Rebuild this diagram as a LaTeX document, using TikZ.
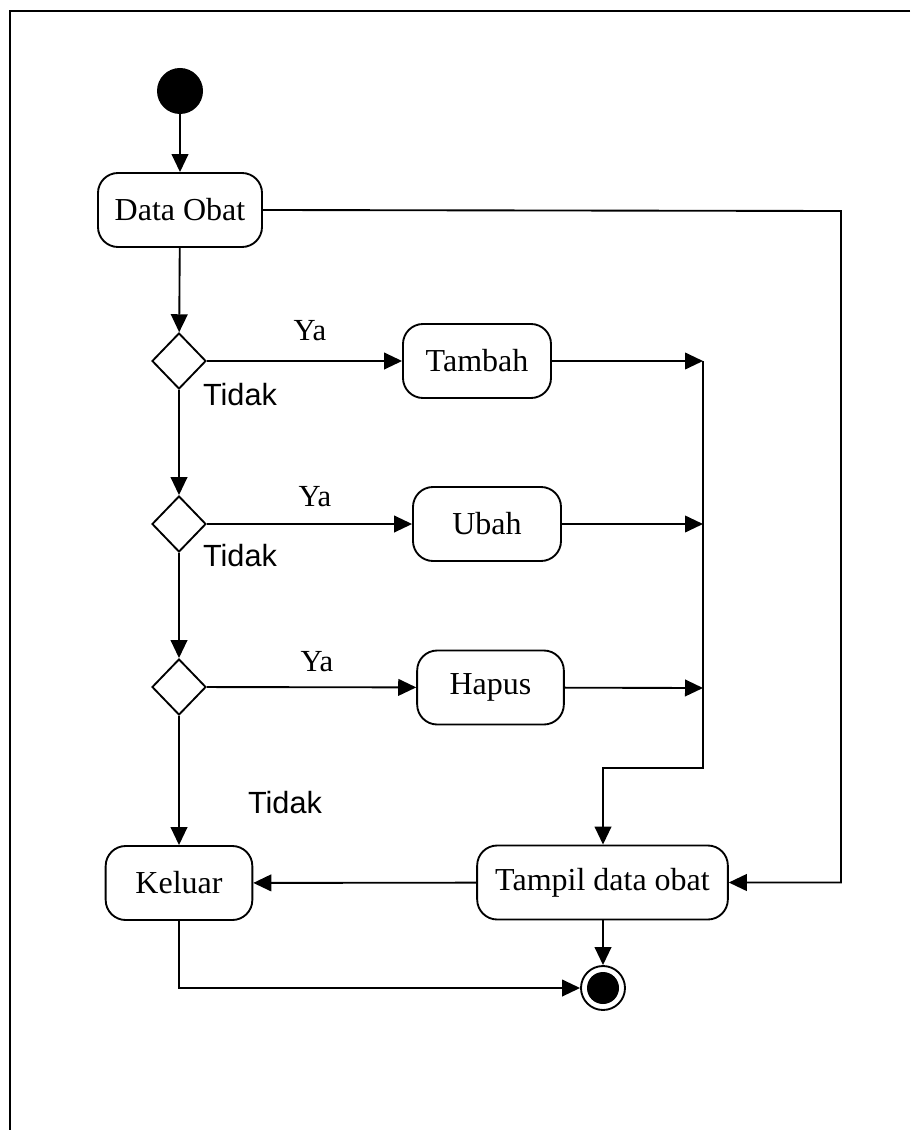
\documentclass[tikz,border=0pt]{standalone}
\usepackage{fontspec}
\setmainfont{Liberation Serif}
\newfontfamily\labelsans{Liberation Sans}
\usetikzlibrary{shapes.geometric,arrows.meta}

\tikzset{
  line/.style={line width=1.4pt},
  flow/.style={line, -{Triangle[length=13.5pt,width=12.5pt]}},
  action/.style={draw, line width=1.4pt, rounded corners=15pt, inner sep=0pt,
    minimum height=55.5pt, font=\fontsize{24}{28}\selectfont},
  decision/.style={draw, diamond, line width=1.4pt, inner sep=0pt,
    minimum width=40.5pt, minimum height=42pt},
  startnode/.style={circle, fill=black, inner sep=0pt, minimum size=34.5pt},
  endnode/.style={circle, draw, line width=1.4pt, inner sep=0pt, minimum size=33pt,
    path picture={\fill (path picture bounding box.center) circle (12pt);}},
  yes/.style={font=\fontsize{23}{26}\selectfont},
  no/.style={font=\labelsans\fontsize{23}{26}\selectfont}
}

\begin{document}
\begin{tikzpicture}[x=0.75pt,y=-0.75pt]
\useasboundingbox (0,0) rectangle (910,1130);

% outer frame
\draw[line width=1.5pt] (910,11) -- (10,11) -- (10,1130);

% nodes
\node[startnode] (start) at (180,91) {};
\node[action, minimum width=123pt] (dataobat) at (180,210) {Data Obat};
\node[decision] (d1) at (179,361) {};
\node[decision] (d2) at (179,524) {};
\node[decision] (d3) at (179,687) {};
\node[action, minimum width=111pt] (tambah) at (477,361) {Tambah};
\node[action, minimum width=111pt] (ubah) at (487,524) {Ubah};
\node[action, minimum width=110pt] (hapus) at (490.5,687.5) {Hapus};
\node[action, minimum width=110pt] (keluar) at (179,883) {Keluar};
\node[action, minimum width=188pt] (tampil) at (602.5,882.5) {Tampil data obat};
\node[endnode] (end) at (603,988) {};

% labels
\node[yes] (ya1) at (310,331) {Ya};
\node[yes] (ya2) at (315,497) {Ya};
\node[yes] (ya3) at (317,662) {Ya};
\node[no] (tidak1) at (240,395) {Tidak};
\node[no] (tidak2) at (240,556) {Tidak};
\node[no] (tidak3) at (285,803) {Tidak};

% junction points
\coordinate (c1) at (841,211);
\coordinate (j1) at (703,361);
\coordinate (j2) at (703,524);
\coordinate (j3) at (703,688);
\coordinate (j4) at (703,768);
\coordinate (j5) at (603,768);

% connectors
\draw[flow] (start) -- (dataobat);
\draw[flow] (dataobat.east) -- (c1) |- (tampil.east);
\draw[flow] (dataobat) -- (d1);
\draw[flow] (d1) -- (tambah);
\draw[flow] (d1) -- (d2);
\draw[flow] (d2) -- (ubah);
\draw[flow] (d2) -- (d3);
\draw[flow] (d3) -- (hapus);
\draw[flow] (d3) -- (keluar);
\draw[flow] (tambah) -- (j1);
\draw[flow] (ubah) -- (j2);
\draw[flow] (hapus) -- (j3);
\draw[flow] (j1) -- (j4) -- (j5) -- (tampil.north -| j5);
\draw[flow] (tampil) -- (keluar);
\draw[flow] (keluar) |- (end);
\draw[flow] (tampil.south -| end) -- (end);
\end{tikzpicture}
\end{document}
